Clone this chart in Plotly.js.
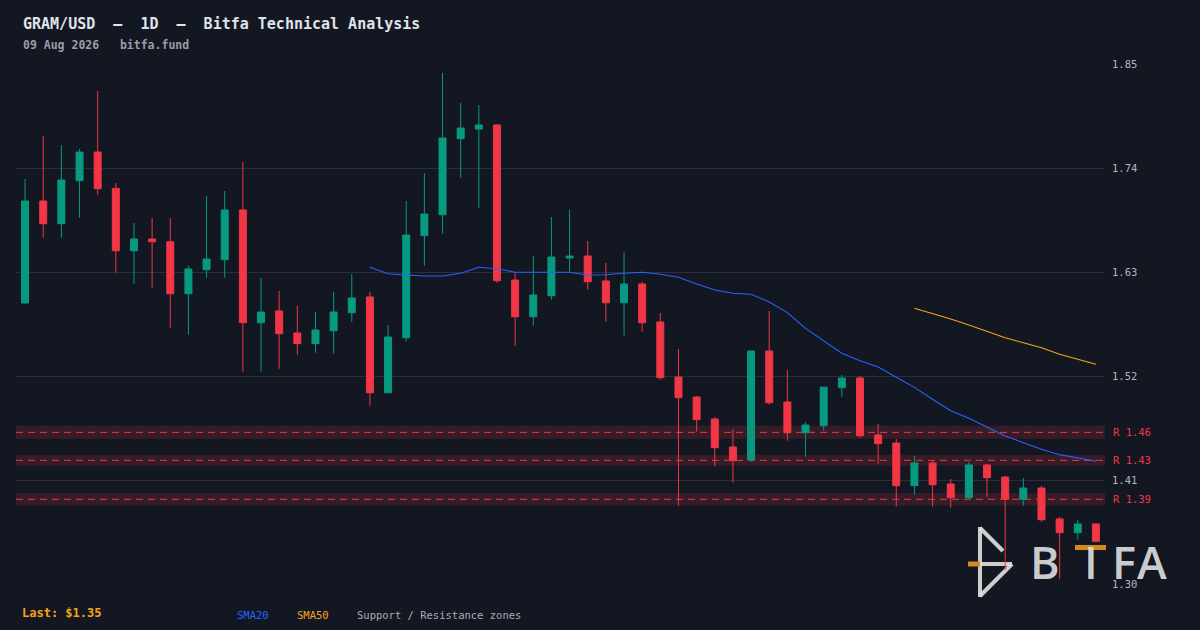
<!DOCTYPE html>
<html>
<head>
<meta charset="utf-8">
<script src="https://cdn.plot.ly/plotly-3.0.1.min.js"></script>
<style>
html,body{margin:0;padding:0;background:#131722;}
#chart{width:1200px;height:630px;}
</style>
</head>
<body>
<div id="chart"></div>
<script>
// ---- data ----
const openP = [1.5972,1.7051,1.6811,1.7266,1.7569,1.7185,1.6525,1.6649,1.6620,1.6070,
  1.6324,1.6430,1.6956,1.5764,1.5888,1.5655,1.5542,1.5679,1.5870,1.6036,
  1.5023,1.5605,1.6684,1.6906,1.7710,1.7812,1.7855,1.6215,1.5827,1.6049,
  1.6448,1.6469,1.6205,1.5975,1.6173,1.5771,1.5189,1.4978,1.4745,1.4449,
  1.4315,1.5464,1.4925,1.4600,1.4674,1.5076,1.5179,1.4576,1.4491,1.4040,
  1.4280,1.4058,1.3913,1.4259,1.4132,1.3896,1.4015,1.3688,1.3543,1.3635];
const highP = [1.7284,1.7738,1.7643,1.7601,1.8214,1.7241,1.6818,1.6871,1.6871,1.6367,
  1.7104,1.7157,1.7463,1.6237,1.6099,1.5940,1.5877,1.6088,1.6279,1.6088,
  1.5739,1.7051,1.7347,1.8405,1.8088,1.8066,1.7865,1.6293,1.6469,1.6882,
  1.6956,1.6628,1.6395,1.6512,1.6194,1.5866,1.5486,1.4988,1.4766,1.4639,
  1.5466,1.5888,1.5263,1.4713,1.5084,1.5211,1.5200,1.4692,1.4534,1.4354,
  1.4301,1.4111,1.4290,1.4269,1.4142,1.4121,1.4037,1.3712,1.3680,1.3645];
const lowP = [1.5965,1.6663,1.6663,1.6874,1.7118,1.6293,1.6176,1.6134,1.5711,1.5637,
  1.6240,1.6240,1.5246,1.5246,1.5277,1.5425,1.5446,1.5436,1.5774,1.4886,
  1.5020,1.5563,1.6367,1.6705,1.7297,1.6980,1.6187,1.5520,1.5732,1.6007,
  1.6300,1.6113,1.5774,1.5626,1.5669,1.5161,1.3828,1.4611,1.4241,1.4071,
  1.4294,1.4896,1.4516,1.4346,1.4621,1.4981,1.4547,1.4272,1.3818,1.3945,
  1.3818,1.3807,1.3902,1.3923,1.3148,1.3828,1.3659,1.3056,1.3469,1.3440];
const closeP = [1.7051,1.6811,1.7273,1.7569,1.7181,1.6525,1.6649,1.6620,1.6070,1.6332,
  1.6437,1.6956,1.5764,1.5877,1.5647,1.5542,1.5687,1.5877,1.6025,1.5023,
  1.5612,1.6691,1.6913,1.7717,1.7823,1.7855,1.6208,1.5827,1.6057,1.6459,
  1.6469,1.6197,1.5975,1.6173,1.5764,1.5182,1.4971,1.4738,1.4442,1.4304,
  1.5464,1.4918,1.4600,1.4682,1.5082,1.5179,1.4569,1.4484,1.4040,1.4280,
  1.4050,1.3913,1.4259,1.4124,1.3896,1.4015,1.3680,1.3543,1.3635,1.3452];
const sma20 = [null,null,null,null,null,null,null,null,null,null,
  null,null,null,null,null,null,null,null,null,1.6350,
  1.6282,1.6268,1.6258,1.6258,1.6286,1.6350,1.6335,1.6297,1.6297,1.6297,
  1.6297,1.6268,1.6271,1.6286,1.6297,1.6276,1.6244,1.6173,1.6110,1.6075,
  1.6064,1.5983,1.5870,1.5704,1.5570,1.5440,1.5362,1.5295,1.5186,1.5080,
  1.4954,1.4833,1.4753,1.4661,1.4565,1.4495,1.4425,1.4368,1.4330,1.4298];
const sma50 = [null,null,null,null,null,null,null,null,null,null,
  null,null,null,null,null,null,null,null,null,null,
  null,null,null,null,null,null,null,null,null,null,
  null,null,null,null,null,null,null,null,null,null,
  null,null,null,null,null,null,null,null,null,1.5916,
  1.5863,1.5803,1.5739,1.5669,1.5605,1.5552,1.5499,1.5430,1.5380,1.5324];
const zoneLevels = [1.4604, 1.4308, 1.3896];
const zoneHalf   = [0.0069, 0.0056, 0.0067];
const yTicks = [1.30, 1.41, 1.52, 1.63, 1.74, 1.85];
const titleText = "GRAM/USD  –  1D  –  Bitfa Technical Analysis";
const subText = "09 Aug 2026   bitfa.fund";

// ---- geometry helpers ----
const W = 1200, H = 630, ML = 16, MR = 95, MT = 64, MB = 46;
const PW = W - ML - MR, PH = H - MT - MB;
const PX = x => (x - ML) / PW;
const PY = y => (H - MB - y) / PH;
const nb = s => s.replace(/ /g, '\u00a0');

const xIdx = openP.map((_, i) => i);
const GREEN = '#089981', RED = '#f23645', BLUE = '#2962ff', ORANGE = '#f7a21b';
const MONO = 'DejaVu Sans Mono';

const traces = [
  {
    type: 'candlestick', x: xIdx, open: openP, high: highP, low: lowP, close: closeP,
    increasing: {line: {color: GREEN, width: 1}, fillcolor: GREEN},
    decreasing: {line: {color: RED, width: 1}, fillcolor: RED},
    whiskerwidth: 0, hoverinfo: 'skip', showlegend: false
  },
  {type: 'scatter', mode: 'lines', x: xIdx, y: sma20, line: {color: BLUE, width: 1.1}, hoverinfo: 'skip', showlegend: false},
  {type: 'scatter', mode: 'lines', x: xIdx, y: sma50, line: {color: ORANGE, width: 1.1}, hoverinfo: 'skip', showlegend: false}
];

const shapes = [];
const annotations = [];
zoneLevels.forEach((lv, i) => {
  shapes.push({type: 'rect', xref: 'paper', yref: 'y', x0: 0, x1: 1, y0: lv - zoneHalf[i], y1: lv + zoneHalf[i],
    fillcolor: 'rgba(242,54,69,0.16)', line: {width: 0}, layer: 'below'});
  shapes.push({type: 'line', xref: 'paper', yref: 'y', x0: 0, x1: 1, y0: lv, y1: lv,
    line: {color: RED, width: 1, dash: '7px,5px'}, layer: 'below'});
  annotations.push({xref: 'paper', yref: 'y', x: PX(1111), y: lv, xanchor: 'left', yanchor: 'middle',
    text: nb('R ' + lv.toFixed(2)), showarrow: false, font: {family: MONO, size: 10.5, color: RED}});
});

// logo (watermark)
const LOGO = 'rgba(222,222,222,0.92)';
const seg = (x0, y0, x1, y1, color, w) => shapes.push({type: 'line', xref: 'paper', yref: 'paper',
  x0: PX(x0), y0: PY(y0), x1: PX(x1), y1: PY(y1), line: {color: color, width: w}, layer: 'below'});
seg(980, 527, 980, 597, LOGO, 4);
seg(980, 528, 1003, 551, LOGO, 4);
seg(980, 564, 1012, 564, LOGO, 4);
seg(1012, 564, 980, 596, LOGO, 4);
seg(968, 564, 980, 564, '#d4891f', 5);
shapes.push({type: 'rect', xref: 'paper', yref: 'paper', x0: PX(1075), x1: PX(1106), y0: PY(545), y1: PY(550),
  fillcolor: '#d4891f', line: {width: 0}, layer: 'below'});
const logoLetters = [['B', 1045], ['I', 1090.5], ['F', 1124], ['A', 1152]];
logoLetters.forEach(([t, cx]) => annotations.push({xref: 'paper', yref: 'paper', x: PX(cx), y: PY(561),
  xanchor: 'center', yanchor: 'middle', text: t, showarrow: false,
  font: {family: 'Open Sans', size: 45, color: LOGO, weight: 600}}));

// header / footer texts
annotations.push({xref: 'paper', yref: 'paper', x: PX(21), y: PY(24), xanchor: 'left', yanchor: 'middle',
  text: '<b>' + nb(titleText) + '</b>', showarrow: false, font: {family: MONO, size: 15, color: '#e0e3eb'}});
annotations.push({xref: 'paper', yref: 'paper', x: PX(21), y: PY(45), xanchor: 'left', yanchor: 'middle',
  text: '<b>' + nb(subText) + '</b>', showarrow: false, font: {family: MONO, size: 11.5, color: '#9a9da6'}});
annotations.push({xref: 'paper', yref: 'paper', x: PX(20), y: PY(613), xanchor: 'left', yanchor: 'middle',
  text: '<b>' + nb('Last: $' + closeP[closeP.length - 1].toFixed(2)) + '</b>', showarrow: false,
  font: {family: MONO, size: 12, color: ORANGE}});
[['SMA20', 235, BLUE], ['SMA50', 295, ORANGE], ['Support / Resistance zones', 355, '#a9acb5']].forEach(([t, x, c]) =>
  annotations.push({xref: 'paper', yref: 'paper', x: PX(x), y: PY(615), xanchor: 'left', yanchor: 'middle',
    text: nb(t), showarrow: false, font: {family: MONO, size: 10.5, color: c}}));

const layout = {
  width: W, height: H,
  margin: {l: ML, r: MR, t: MT, b: MB, pad: 0},
  paper_bgcolor: '#131722', plot_bgcolor: '#131722',
  showlegend: false, boxgap: 0.45,
  xaxis: {range: [-0.5, 59.5], showgrid: false, zeroline: false, showticklabels: false, showline: false,
    ticks: '', rangeslider: {visible: false}, fixedrange: true},
  yaxis: {side: 'right', range: [1.30, 1.85], tickvals: yTicks, ticktext: yTicks.map(v => v.toFixed(2)),
    showgrid: true, gridcolor: '#2a2e39', gridwidth: 1, zeroline: false, showline: false, ticks: '',
    ticklabelstandoff: 6, tickfont: {family: MONO, size: 10.5, color: '#b2b5be'}, fixedrange: true},
  shapes: shapes, annotations: annotations
};

Plotly.newPlot('chart', traces, layout, {staticPlot: true, displayModeBar: false});
</script>
</body>
</html>
